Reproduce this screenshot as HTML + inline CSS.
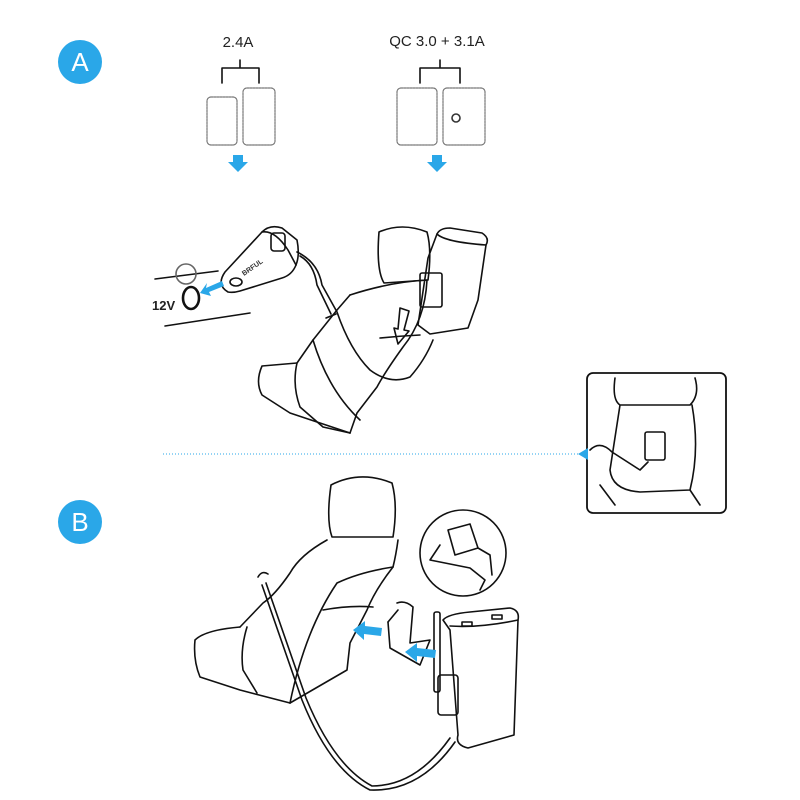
<!DOCTYPE html>
<html><head><style>
body{margin:0;background:#fff;width:800px;height:800px;overflow:hidden}
svg{display:block}
text{font-family:"Liberation Sans",sans-serif}
</style></head><body>
<svg width="800" height="800" viewBox="0 0 800 800" xmlns="http://www.w3.org/2000/svg">
<g fill="none" stroke="#111" stroke-width="1.6" stroke-linejoin="round" stroke-linecap="round">
<!-- top brackets -->
<path d="M222 83 V68 H259 V83 M240 68 V60"/>
<path d="M420 83 V68 H460 V83 M440 68 V60"/>
<g stroke="#777" stroke-width="1.2" stroke-dasharray="2 1">
<rect x="207" y="97" width="30" height="48" rx="4"/>
<rect x="243" y="88" width="32" height="57" rx="4"/>
<rect x="397" y="88" width="40" height="57" rx="4"/>
<rect x="443" y="88" width="42" height="57" rx="4"/>
</g>
<circle cx="456" cy="118" r="4" stroke="#333"/>
<!-- 12V lines -->
<path d="M155 279 L218 271 M165 326 L250 313"/>
<circle cx="186" cy="274" r="10" stroke="#666"/>
<ellipse cx="191" cy="298" rx="8" ry="11" stroke-width="2.6"/>
<!-- car charger -->
<path d="M228 292 Q216 285 225 272 L262 232 Q270 224 282 228 L297 240 Q300 255 296 265 Q292 275 282 278 L240 291 Q233 293 228 292 Z"/>
<path d="M262 232 Q275 230 288 250 L296 265"/>
<rect x="271" y="233" width="14" height="18" rx="3"/>
<ellipse cx="236" cy="282" rx="6" ry="4"/>
<!-- seat A headrest -->
<path d="M379 232 Q376 270 384 283 L428 280 Q432 250 427 232 Q402 222 379 232 Z"/>
<!-- backrest -->
<path d="M350 295 Q390 282 427 280 Q425 320 403 347 Q385 372 377 387 L357 413 L350 433"/>
<path d="M350 295 L337 310 Q325 325 313 340 L297 363 Q292 385 300 407 L323 427 L350 433"/>
<!-- cushion -->
<path d="M297 363 L262 366 Q255 382 262 395 L290 413 L350 433"/>
<path d="M313 340 Q328 390 360 420"/>
<path d="M380 338 Q400 336 420 335"/>
<!-- cable A -->
<path d="M297 252 Q318 262 322 285 L337 312 Q350 350 370 370 Q390 385 410 377 Q425 360 433 340"/>
<path d="M300 256 Q314 264 317 285 L331 314"/>
<path d="M326 318 L336 314"/>
<!-- charger box A -->
<path d="M437 234 Q440 228 450 228 L482 233 Q490 238 486 245 L478 300 L468 328 L430 334 L418 325 L428 258 Z"/>
<path d="M437 234 Q445 242 486 245"/>
<rect x="420" y="273" width="22" height="34" rx="2"/>
<path d="M400 308 L409 311 L404 330 L409 331 L398 344 L394 328 L398 329 Z"/>
<!-- inset -->
<rect x="587" y="373" width="139" height="140" rx="6" stroke-width="1.8"/>
<path d="M615 378 Q612 400 620 405 L690 405 Q700 395 695 378 M620 405 L610 470 Q612 490 640 492 L690 490 Q700 450 692 405"/>
<path d="M590 450 Q600 440 612 452 L640 470 L648 462"/>
<rect x="645" y="432" width="20" height="28" rx="2"/>
<path d="M600 485 L615 505 M690 490 L700 505"/>
<!-- seat B headrest -->
<path d="M331 485 Q326 520 332 537 L393 537 Q398 505 392 483 Q360 470 331 485 Z"/>
<!-- backrest B -->
<path d="M327 540 Q300 555 290 573 Q275 595 263 603 L240 627"/>
<path d="M398 540 Q396 555 393 567 Q375 590 367 610 L350 643 L347 670 L290 703"/>
<path d="M393 567 Q360 572 337 583 Q305 630 290 703"/>
<path d="M323 610 Q350 605 373 607"/>
<!-- cushion B -->
<path d="M240 627 Q205 630 195 640 Q193 660 200 677 L240 690 L290 703"/>
<path d="M247 627 Q240 650 243 670 L257 693"/>
<!-- cable B -->
<path d="M262 585 L302 700 Q330 770 370 790 Q420 792 455 742"/>
<path d="M266 583 L306 698 Q334 766 372 786 Q416 786 450 738"/>
<path d="M258 577 Q262 570 268 574"/>
<!-- clip -->
<path d="M397 603 Q405 600 413 607 L410 643 L430 640 L420 665 L390 648 L388 622"/>
<path d="M388 622 L398 610"/>
<!-- charger B -->
<path d="M443 620 Q448 614 470 612 L510 608 Q520 610 518 620 L514 735 L468 748 Q455 745 458 735 L450 630 Z"/>
<path d="M450 626 Q480 628 518 620"/>
<rect x="462" y="622" width="10" height="4"/><rect x="492" y="615" width="10" height="4"/>
<rect x="434" y="612" width="6" height="80" rx="2"/>
<rect x="438" y="675" width="20" height="40" rx="3"/>
<!-- inset circle -->
<circle cx="463" cy="553" r="43"/>
<path d="M448 530 L470 524 L478 548 L455 555 Z M440 545 L430 560 L470 568 L485 580 L480 590 M478 548 L490 555 L492 575"/>
</g>
<g fill="#2aa7e8">
<circle cx="80" cy="62" r="22"/>
<circle cx="80" cy="522" r="22"/>
<path d="M233 155 h10 v7 h5 l-10 10 l-10 -10 h5z"/>
<path d="M432 155 h10 v7 h5 l-10 10 l-10 -10 h5z"/>
<path d="M222 281 L206 288 L207 283 L200 293 L211 296 L209 292 L224 286z"/>
<path d="M353 630 L365 621 L365 626 L382 628 L381 636 L364 634 L364 640 Z"/>
<path d="M405 652 L417 643 L417 648 L436 650 L435 658 L417 656 L417 662 Z"/>
<path d="M578 454 L588 448 L588 460 Z"/>
</g>
<line x1="163" y1="454" x2="580" y2="454" stroke="#2aa7e8" stroke-width="1" stroke-dasharray="1 2"/>
<text x="80" y="71" font-size="26" fill="#fff" text-anchor="middle">A</text>
<text x="80" y="531" font-size="26" fill="#fff" text-anchor="middle">B</text>
<text x="238" y="47" font-size="15" text-anchor="middle" fill="#222">2.4A</text>
<text x="437" y="46" font-size="15" text-anchor="middle" fill="#222">QC 3.0 + 3.1A</text>
<text x="152" y="310" font-size="13" font-weight="bold" fill="#222">12V</text>
<text x="244" y="276" font-size="7" font-weight="bold" fill="#333" transform="rotate(-35 244 276)">BRFUL</text>
</svg>
</body></html>
